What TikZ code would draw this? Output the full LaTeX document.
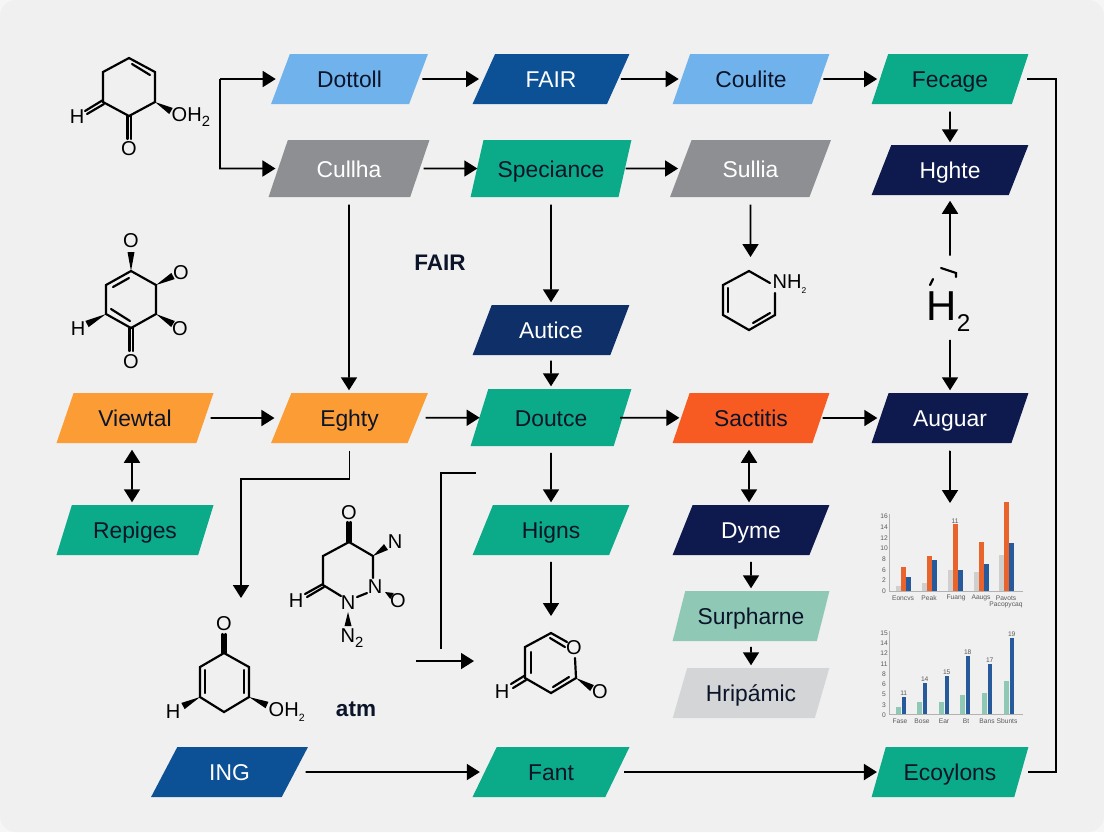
\documentclass[tikz,border=0pt]{standalone}
\usepackage{fontspec}
\setmainfont{Liberation Sans}
\usetikzlibrary{arrows.meta,shapes.geometric,calc}

\definecolor{paper}{HTML}{F0F0F0}
\definecolor{corner}{HTML}{F6F6F6}
\definecolor{inkdark}{HTML}{0B1428}
\definecolor{skyblue}{HTML}{70B2EC}
\definecolor{deepblue}{HTML}{0C5196}
\definecolor{navy}{HTML}{0E1A4E}
\definecolor{midnavy}{HTML}{0F2F68}
\definecolor{jade}{HTML}{0BAA88}
\definecolor{slategray}{HTML}{8D8F93}
\definecolor{amber}{HTML}{FC9C35}
\definecolor{redorange}{HTML}{F85B22}
\definecolor{paleteal}{HTML}{8FC9B6}
\definecolor{palegray}{HTML}{D3D5D6}
\definecolor{barblue}{HTML}{265A9B}
\definecolor{barorange}{HTML}{E8642C}
\definecolor{bargray}{HTML}{CFCFCD}

\tikzset{
  stepbox/.style={shape=trapezium, trapezium left angle=59, trapezium right angle=121,
    trapezium stretches=true, minimum width=1.57cm, minimum height=0.5cm, inner sep=0pt,
    text height=0.17cm, text depth=0cm, text=inkdark,
    font=\fontsize{6.5}{7}\selectfont},
  tallbox/.style={stepbox, minimum width=1.61cm, minimum height=0.57cm},
  flow/.style={-{Triangle[length=0.13cm,width=0.16cm]}, line width=0.48pt, shorten <=0.07cm, shorten >=0.02cm},
  both/.style={{Triangle[length=0.13cm,width=0.16cm]}-{Triangle[length=0.13cm,width=0.16cm]}, line width=0.48pt},
  plainline/.style={line width=0.48pt},
  bond/.style={line width=0.62pt, line cap=round},
  atom/.style={inner sep=0pt, font=\fontsize{5.7}{6}\selectfont},
  tick/.style={inner sep=0pt, text=black!65, font=\fontsize{1.9}{2}\selectfont},
  axisline/.style={line width=0.2pt, draw=black!30}
}
% wedge bond, thin end first
\newcommand{\wdg}[2]{\fill ($#1$) -- ($#2!0.035cm!90:#1$) -- ($#2!0.035cm!-90:#1$) -- cycle;}

\begin{document}
\begin{tikzpicture}[x=0.01cm,y=-0.01cm]
  \useasboundingbox (0,0) rectangle (1104,832);
  \fill[corner] (0,0) rectangle (1104,832);
  \fill[paper, rounded corners=0.16cm] (0,0) rectangle (1104,832);

  % Top rows
  \node[stepbox, fill=skyblue] (dottoll) at (349.5,79) {Dottoll};
  \node[stepbox, fill=deepblue, text=white] (fair) at (551,79) {FAIR};
  \node[stepbox, fill=skyblue] (coulite) at (751,79) {Coulite};
  \node[stepbox, fill=jade] (fecage) at (950,79) {Fecage};
  \node[tallbox, fill=slategray, text=white] (cullha) at (349,168.5) {Cullha};
  \node[tallbox, fill=jade] (speciance) at (551,168.5) {Speciance};
  \node[tallbox, fill=slategray, text=white] (sullia) at (750.5,168.5) {Sullia};
  \node[stepbox, fill=navy, text=white] (hghte) at (950,170) {Hghte};

  % Middle
  \node[stepbox, fill=midnavy, text=white] (autice) at (551,330) {Autice};
  \node[stepbox, fill=amber] (viewtal) at (135,418) {Viewtal};
  \node[stepbox, fill=amber] (eghty) at (349.5,418) {Eghty};
  \node[tallbox, fill=jade] (doutce) at (551,417.5) {Doutce};
  \node[stepbox, fill=redorange] (sactitis) at (751,418) {Sactitis};
  \node[stepbox, fill=navy, text=white] (auguar) at (950,418) {Auguar};
  \node[stepbox, fill=jade] (repiges) at (135,530) {Repiges};
  \node[stepbox, fill=jade] (higns) at (551,530) {Higns};
  \node[stepbox, fill=navy, text=white] (dyme) at (751,530) {Dyme};
  \node[stepbox, fill=paleteal] (surpharne) at (751,616) {Surpharne};
  \node[stepbox, fill=palegray] (hripamic) at (751,693) {Hripámic};

  % Bottom row
  \node[stepbox, fill=deepblue, text=white] (ing) at (229.5,772) {ING};
  \node[stepbox, fill=jade] (fant) at (551,772) {Fant};
  \node[stepbox, fill=jade] (ecoylons) at (950,772) {Ecoylons};

  % Loose labels
  \node[inner sep=0pt, font=\fontsize{6.4}{7}\selectfont\bfseries, text=inkdark] (fairlabel) at (440,263) {FAIR};
  \node[inner sep=0pt, font=\fontsize{6.4}{7}\selectfont\bfseries, text=inkdark] (atm) at (356,709) {atm};
  \node[inner sep=0pt, anchor=base west, font=\fontsize{11.9}{12}\selectfont] (htwo) at (926,320) {H\raisebox{-0.5ex}{\fontsize{6.9}{7}\selectfont 2}};

  % Free ends
  \coordinate (forkin) at (220,79);
  \coordinate (forkmid) at (220,168.5);
  \coordinate (ringtop) at (750.5,259);
  \coordinate (chartone) at (950,505);
  \coordinate (leftmol) at (241,598);
  \coordinate (pyrone) at (551,618);
  \coordinate (pyroneleft) at (474,661);
  \coordinate (feedin) at (416,661);
  \coordinate (feedtop) at (476,473);
  \coordinate (feedbot) at (441,649);

  % Horizontal connectors
  \draw[flow, shorten <=0.03cm, shorten >=0.04cm] (dottoll) -- (fair);
  \draw[flow, shorten <=0.02cm, shorten >=0.02cm] (fair) -- (coulite);
  \draw[flow, shorten <=0.02cm, shorten >=0.02cm] (coulite) -- (fecage);
  \draw[flow, shorten <=0.03cm, shorten >=-0.01cm] (cullha) -- (speciance);
  \draw[flow, shorten <=0cm, shorten >=0.02cm] (speciance) -- (sullia);
  \draw[flow, shorten <=0.05cm, shorten >=0.06cm] (viewtal) -- (eghty);
  \draw[flow, shorten <=0.07cm, shorten >=-0.01cm] (eghty) -- (doutce);
  \draw[flow, shorten <=-0.03cm, shorten >=0.01cm] (doutce) -- (sactitis);
  \draw[flow, shorten <=0.01cm, shorten >=0.02cm] (sactitis) -- (auguar);
  \draw[flow, shorten <=0.1cm, shorten >=0.04cm] (ing) -- (fant);
  \draw[flow, shorten <=0.06cm, shorten >=0.01cm] (fant) -- (ecoylons);

  % Vertical connectors
  \draw[flow] (fecage) -- (hghte);
  \draw[flow] (cullha) -- (cullha |- eghty.north);
  \draw[flow] (speciance) -- (autice);
  \draw[flow, shorten <=0.05cm] (autice) -- (doutce);
  \draw[flow, shorten <=0.06cm] (doutce) -- (higns);
  \draw[flow, shorten <=0.06cm] (higns) -- (pyrone);
  \draw[flow] (sullia) -- (ringtop);
  \draw[flow, shorten <=0.35cm, shorten >=0.05cm] (hghte |- htwo.north) -- (hghte);
  \draw[flow, shorten <=0.08cm] (auguar |- htwo.south) -- (auguar);
  \draw[flow] (auguar) -- (chartone);
  \draw[flow, shorten <=0.06cm] (dyme) -- (surpharne);
  \draw[flow, shorten <=0.05cm] (surpharne) -- (hripamic);
  \draw[both, shorten <=0.06cm, shorten >=0.02cm] ([xshift=-0.02cm]sactitis.south) -- ([xshift=-0.02cm]dyme.north);
  \draw[both, shorten <=0.06cm, shorten >=0.02cm] ([xshift=-0.03cm]viewtal.south) -- ([xshift=-0.03cm]repiges.north);

  % Elbows
  \draw[flow, shorten <=0pt, shorten >=0.04cm] (forkin) -- (dottoll);
  \draw[flow, shorten <=0pt, shorten >=0.02cm] (forkin) -- (forkmid) -- (cullha);
  \draw[flow, shorten >=0pt] (eghty.south) -- ++(0,35) -| (leftmol);
  \draw[plainline] (feedtop) -| (feedbot);
  \draw[flow, shorten <=0pt, shorten >=0pt] (feedin) -- (pyroneleft);
  \draw[plainline, shorten <=0.06cm, shorten >=0.06cm] (ecoylons.east) -- ++(34,0) |- (fecage.east);

  % Marks above H2
  \draw[bond] (930,285) -- (933,279);
  \draw[bond] (941,268) -- (956,273) -- (956,277);

  % Ring top left
  \draw[bond] (129,58) -- (155,72) -- (155,102) -- (129,116) -- (103,102) -- (103,72) -- cycle;
  \draw[bond] (132,64) -- (150,75);
  \draw[bond] (127.5,116) -- (127.5,139) (131,116) -- (131,139);
  \draw[bond] (103,100) -- (85,111) (104,104) -- (87,114);
  \wdg{(155,102)}{(171,111)}
  \node[atom] (h1) at (77,117) {H};
  \node[atom] (o1) at (129,149) {O};
  \node[atom, anchor=west] (oh1) at (171,117) {OH\raisebox{-0.5ex}{\fontsize{4.2}{5}\selectfont 2}};

  % Ring with four oxygens
  \draw[bond] (131,271) -- (156,285) -- (156,314) -- (131,328) -- (106,314) -- (106,285) -- cycle;
  \draw[bond] (113,287) -- (129,278);
  \draw[bond] (111,309) -- (130,321);
  \draw[bond] (129.5,328) -- (129.5,351) (133,328) -- (133,351);
  \wdg{(131,271)}{(131,252)}
  \wdg{(156,285)}{(173,276)}
  \wdg{(156,314)}{(173,324)}
  \wdg{(106,314)}{(87,324)}
  \node[atom] (o2a) at (131,241) {O};
  \node[atom] (o2b) at (181,273) {O};
  \node[atom] (o2c) at (180,329) {O};
  \node[atom] (h2) at (78,329) {H};
  \node[atom] (o2d) at (131,362) {O};

  % Ring under Sullia
  \draw[bond] (775,293) -- (775,315) -- (749,330) -- (723,315) -- (723,285) -- (749,271) -- (770,283);
  \draw[bond] (728,288) -- (728,312);
  \draw[bond] (753,323) -- (770,313);
  \node[atom, anchor=west] (nh) at (772,284) {NH\raisebox{-0.5ex}{\fontsize{2.4}{3}\selectfont 2}};

  % Ring with nitrogens
  \draw[bond] (349,542) -- (373,556) -- (373,578);
  \draw[bond] (367,593) -- (357,597);
  \draw[bond] (341,596) -- (323,585) -- (323,556) -- (349,542);
  \draw[bond] (347.5,522) -- (347.5,542) (350.5,522) -- (350.5,542);
  \draw[bond] (323,584) -- (305,594) (324,587) -- (307,597);
  \wdg{(373,556)}{(386,547)}
  \wdg{(385,592)}{(392,596)}
  \wdg{(348,612)}{(348,626)}
  \node[atom] (o4a) at (349,513) {O};
  \node[atom] (n4a) at (395,542) {N};
  \node[atom] (n4b) at (375,587) {N};
  \node[atom] (o4b) at (398,601) {O};
  \node[atom] (n4c) at (348,603) {N};
  \node[atom] (h4) at (296,601) {H};
  \node[atom] (n4d) at (352,638) {N\raisebox{-0.5ex}{\fontsize{4.2}{5}\selectfont 2}};

  % Ring bottom left
  \draw[bond] (224,653) -- (249,667) -- (249,697) -- (224,712) -- (200,697) -- (200,667) -- cycle;
  \draw[bond] (205,670) -- (205,693);
  \draw[bond] (244,670) -- (244,693);
  \draw[bond] (222.5,634) -- (222.5,653) (225.5,634) -- (225.5,653);
  \wdg{(200,697)}{(183,706)}
  \wdg{(249,697)}{(267,705)}
  \node[atom] (o5) at (224,624) {O};
  \node[atom] (h5) at (173,712) {H};
  \node[atom, anchor=west] (oh5) at (268,712) {OH\raisebox{-0.5ex}{\fontsize{3}{4}\selectfont 2}};

  % Ring under Higns
  \draw[bond] (567,642) -- (551,633) -- (525,647) -- (525,678) -- (551,693) -- (576,678) -- (575,658);
  \draw[bond] (550,638) -- (565,647);
  \draw[bond] (531,652) -- (531,673);
  \draw[bond] (553,687) -- (569,677);
  \draw[bond] (524,676) -- (511,684) (526,680) -- (513,688);
  \wdg{(576,678)}{(592,688)}
  \node[atom] (o6a) at (574,648) {O};
  \node[atom] (h6) at (502,692) {H};
  \node[atom] (o6b) at (600,692) {O};

  % First chart
  \draw[axisline] (889,514) -- (889,591) -- (1023,591);
  \foreach \ty/\tl in {516/16,527/14,538/12,548/10,559/8,570/6,580/2,591/0}
    \node[tick] at (884,\ty) {\tl};
  \foreach \gx/\ga/\gb/\gc in {896/586/567/577,922/583/556/560,948/570/524/570,974/572/542/564,999/555/502/543} {
    \fill[bargray] (\gx,\ga) rectangle ++(4.5,591-\ga);
    \fill[barorange] (\gx+5.2,\gb) rectangle ++(4.5,591-\gb);
    \fill[barblue] (\gx+10.4,\gc) rectangle ++(4.5,591-\gc);
  }
  \foreach \cx/\cl in {903/Eoncvs,929/Peak,956/Fuang,981/Aaugs,1006/Pavots}
    \node[tick] at (\cx,598) {\cl};
  \node[tick] at (1006,605) {Pacopycaq};
  \node[tick] at (955,521) {11};

  % Second chart
  \draw[axisline] (889,631) -- (889,714) -- (1023,714);
  \foreach \ty/\tl in {633/15,643/14,653/12,664/11,674/8,684/6,694/5,705/3,715/0}
    \node[tick] at (884,\ty) {\tl};
  \foreach \gx/\ga/\gb/\gv in {896/707/697/11,917/702/683/14,939/702/676/15,960/695/656/18,982/693/664/17,1004/681/638/19} {
    \fill[paleteal] (\gx,\ga) rectangle ++(4.5,714-\ga);
    \fill[barblue] (\gx+5.5,\gb) rectangle ++(4.5,714-\gb);
    \node[tick] at (\gx+7.7,\gb-4) {\gv};
  }
  \foreach \cx/\cl in {900/Fase,922/Bose,944/Ear,966/Bt,987/Bans,1007/Sbunts}
    \node[tick] at (\cx,721) {\cl};
\end{tikzpicture}
\end{document}
